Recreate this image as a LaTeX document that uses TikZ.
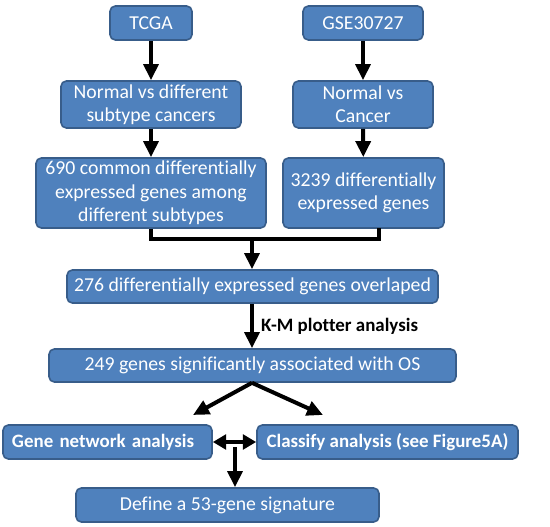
\documentclass[tikz,border=0pt]{standalone}
\usepackage{fontspec}
\setmainfont{Carlito}[Ligatures=NoCommon]
\usetikzlibrary{arrows.meta,positioning}

\definecolor{boxblue}{HTML}{4F81BD}
\definecolor{boxedge}{HTML}{385D8A}

\tikzset{
  stepbox/.style={draw=boxedge, fill=boxblue, line width=1.2pt, rounded corners=4pt,
    text=white, align=center, inner sep=2pt, font=\fontsize{14.8}{17.5}\selectfont},
  boldtext/.style={font=\fontsize{14.2}{17}\selectfont\bfseries},
  flow/.style={line width=3pt, -{Triangle[length=12pt,width=11pt]}},
  bothflow/.style={line width=3pt, {Triangle[length=10pt,width=11pt]}-{Triangle[length=10pt,width=11pt]}},
}

\begin{document}
\begin{tikzpicture}[x=0.75pt, y=-0.75pt]

\useasboundingbox (0,0) rectangle (550,527);

\node[stepbox, minimum width=61.5pt, minimum height=25.5pt] (tcga) at (151,23) {TCGA};
\node[stepbox, minimum width=90pt, minimum height=25.5pt] (gse) at (363,23) {GSE30727};

\node[stepbox, minimum width=135pt, minimum height=35.25pt] (normdiff) at (151,104.5) {Normal vs different\\subtype cancers};
\node[stepbox, minimum width=105pt, minimum height=35.25pt] (normcan) at (363,104.5) {Normal vs\\Cancer};

\node[stepbox, minimum width=172.5pt, minimum height=52.5pt] (common) at (151,193) {690 common differentially\\expressed genes among\\different subtypes};
\node[stepbox, minimum width=120.75pt, minimum height=52.5pt] (degs) at (363.5,193) {3239 differentially\\expressed genes};

\node[stepbox, minimum width=278.25pt, minimum height=24.75pt] (overlap) at (252.5,286.5) {276 differentially expressed genes overlaped};
\node[stepbox, minimum width=305.25pt, minimum height=24.75pt] (sig) at (252.5,365.5) {249 genes significantly associated with OS};

\node[stepbox, boldtext, minimum height=25.5pt, text width=143.25pt, inner xsep=6.75pt, align=left] (network) at (107.5,442) {Gene network analysis};
\node[stepbox, boldtext, minimum width=195.75pt, minimum height=25.5pt] (classify) at (387.5,442) {Classify analysis (see Figure5A)};

\node[stepbox, minimum width=227.25pt, minimum height=25.5pt] (define) at (227.5,505) {Define a 53-gene signature};

\coordinate (merge) at (252,239);
\coordinate (degsout) at (379,228);
\coordinate (leftend) at (193,415);
\coordinate (rightend) at (323,415);
\coordinate (split) at (235,447);

\draw[flow] (tcga) -- (normdiff);
\draw[flow] (gse) -- (normcan);
\draw[flow] (normdiff) -- (common);
\draw[flow] (normcan) -- (degs);

\draw[line width=3pt] (common.south) |- (merge) -| (degsout);
\draw[flow] (merge) -- (overlap.north -| merge);

\draw[flow] (overlap.south -| merge) -- (sig.north -| merge)
  node[midway, right=2pt, boldtext] (km) {K-M plotter analysis};

\draw[flow] (sig.south -| merge) -- (leftend);
\draw[flow] (sig.south -| merge) -- (rightend);

\draw[bothflow] (network) -- (classify);
\draw[flow] (split) -- (define.north -| split);

\end{tikzpicture}
\end{document}
